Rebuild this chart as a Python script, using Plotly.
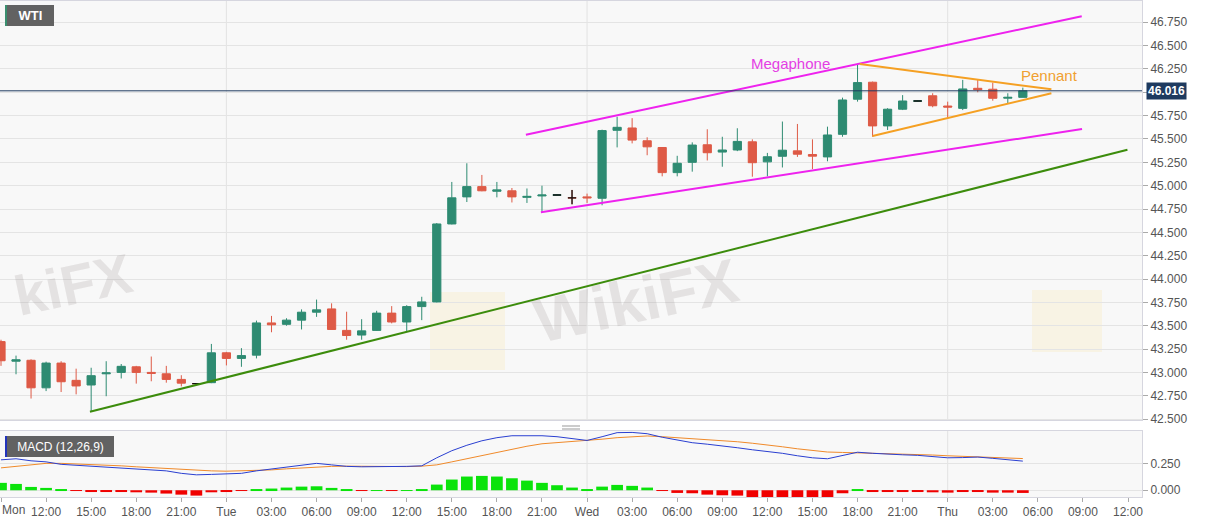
import plotly.graph_objects as go

# hourly candles, hour 0 = Mon 09:00
hours = list(range(69))
opens = [43.33, 43.12, 43.13, 42.835, 43.10, 42.915, 42.865, 42.985, 43.00, 43.06,
         43.00, 42.985, 42.925, 42.88, 42.89, 43.21, 43.15, 43.185, 43.53, 43.515,
         43.56, 43.645, 43.68, 43.45, 43.40, 43.45, 43.635, 43.54, 43.705, 43.755,
         44.59, 44.88, 44.99, 44.94, 44.945, 44.875, 44.89, 44.90, 44.87, 44.88,
         44.865, 45.593, 45.618, 45.481, 45.409, 45.14, 45.25, 45.438, 45.36, 45.382,
         45.47, 45.255, 45.315, 45.373, 45.334, 45.308, 45.55, 45.926, 46.108, 45.64,
         45.819, 45.907, 45.963, 45.853, 45.828, 46.043, 46.033, 45.937, 45.946]
highs = [43.35, 43.18, 43.14, 43.115, 43.12, 43.04, 43.05, 43.12, 43.09, 43.07,
         43.17, 43.07, 42.97, 42.885, 43.305, 43.22, 43.26, 43.555, 43.605, 43.58,
         43.675, 43.78, 43.74, 43.65, 43.57, 43.66, 43.71, 43.72, 43.81, 44.60,
         45.04, 45.24, 45.115, 45.04, 44.975, 44.97, 45.00, 44.905, 44.955, 44.915,
         45.60, 45.738, 45.723, 45.518, 45.41, 45.32, 45.464, 45.604, 45.524, 45.615,
         45.496, 45.351, 45.687, 45.661, 45.496, 45.632, 45.943, 46.304, 46.115, 45.83,
         45.97, 45.912, 45.99, 45.90, 46.133, 46.133, 46.104, 45.99, 46.05]
lows = [43.07, 42.98, 42.72, 42.80, 42.79, 42.765, 42.577, 42.745, 42.935, 42.88,
        42.905, 42.89, 42.85, 42.875, 42.885, 43.075, 43.06, 43.15, 43.43, 43.50,
        43.46, 43.595, 43.455, 43.35, 43.35, 43.445, 43.525, 43.435, 43.56, 43.75,
        44.585, 44.825, 44.94, 44.875, 44.82, 44.815, 44.72, 44.895, 44.80, 44.815,
        44.79, 45.41, 45.453, 45.326, 45.10, 45.10, 45.15, 45.27, 45.203, 45.37,
        45.096, 45.10, 45.195, 45.308, 45.178, 45.261, 45.524, 45.90, 45.524, 45.597,
        45.81, 45.902, 45.84, 45.732, 45.81, 46.00, 45.91, 45.882, 45.946]
closes = [43.125, 43.135, 42.835, 43.10, 42.90, 42.855, 42.965, 42.995, 43.065, 43.00,
          42.99, 42.925, 42.885, 42.88, 43.21, 43.15, 43.18, 43.53, 43.51, 43.56,
          43.645, 43.67, 43.46, 43.395, 43.445, 43.635, 43.54, 43.705, 43.755, 44.59,
          44.87, 44.99, 44.945, 44.955, 44.88, 44.885, 44.90, 44.90, 44.87, 44.87,
          45.59, 45.625, 45.488, 45.416, 45.14, 45.24, 45.435, 45.353, 45.382, 45.474,
          45.246, 45.31, 45.38, 45.337, 45.316, 45.543, 45.918, 46.104, 45.64, 45.819,
          45.907, 45.907, 45.856, 45.842, 46.036, 46.028, 45.936, 45.946, 46.016]
last_price = 46.016

# MACD (12,26,9)
macd = [0.284, 0.294, 0.275, 0.265, 0.242, 0.233, 0.223, 0.216, 0.209, 0.200,
        0.190, 0.181, 0.158, 0.144, 0.148, 0.153, 0.158, 0.181, 0.200, 0.219,
        0.233, 0.251, 0.237, 0.223, 0.219, 0.219, 0.219, 0.223, 0.228, 0.303,
        0.369, 0.420, 0.462, 0.491, 0.509, 0.509, 0.509, 0.500, 0.486, 0.465,
        0.500, 0.538, 0.540, 0.528, 0.495, 0.467, 0.444, 0.430, 0.416, 0.397,
        0.378, 0.364, 0.345, 0.322, 0.303, 0.294, 0.322, 0.355, 0.345, 0.336,
        0.331, 0.326, 0.312, 0.303, 0.305, 0.310, 0.298, 0.284, 0.272]
signal = [0.209, 0.223, 0.237, 0.251, 0.251, 0.247, 0.242, 0.235, 0.228, 0.219,
          0.211, 0.205, 0.195, 0.188, 0.181, 0.178, 0.181, 0.184, 0.190, 0.200,
          0.209, 0.219, 0.223, 0.225, 0.223, 0.219, 0.219, 0.221, 0.225, 0.237,
          0.265, 0.294, 0.322, 0.355, 0.387, 0.411, 0.434, 0.444, 0.453, 0.465,
          0.477, 0.491, 0.500, 0.507, 0.500, 0.491, 0.483, 0.472, 0.462, 0.453,
          0.439, 0.425, 0.406, 0.387, 0.369, 0.357, 0.353, 0.350, 0.345, 0.341,
          0.338, 0.334, 0.329, 0.322, 0.317, 0.312, 0.308, 0.303, 0.296]
hist = [0.069, 0.059, 0.031, 0.022, 0.006, -0.004, -0.016, -0.016, -0.016, -0.019,
        -0.022, -0.031, -0.041, -0.050, -0.019, -0.016, -0.006, 0.009, 0.016, 0.025,
        0.034, 0.037, 0.022, 0.004, -0.003, 0.002, -0.003, 0.001, 0.003, 0.053,
        0.100, 0.128, 0.134, 0.128, 0.112, 0.090, 0.069, 0.047, 0.025, 0.006,
        0.034, 0.050, 0.041, 0.025, -0.004, -0.025, -0.028, -0.041, -0.047, -0.050,
        -0.066, -0.072, -0.072, -0.075, -0.078, -0.066, -0.028, 0.003, -0.013, -0.013,
        -0.009, -0.009, -0.019, -0.022, -0.013, -0.013, -0.022, -0.022, -0.025]

# drawn lines (hour, price)
support_x, support_y = [5.92, 74.96], [42.578, 45.385]
mega_up_x, mega_up_y = [34.93, 71.92], [45.545, 46.815]
mega_lo_x, mega_lo_y = [35.93, 71.94], [44.716, 45.607]
pen_up_x, pen_up_y = [57.15, 69.9], [46.303, 46.032]
pen_lo_x, pen_lo_y = [58.0, 69.9], [45.532, 45.989]

tick_hours = list(range(0, 76, 3))
tick_labels = ['Mon', '12:00', '15:00', '18:00', '21:00', 'Tue', '03:00', '06:00', '09:00',
               '12:00', '15:00', '18:00', '21:00', 'Wed', '03:00', '06:00', '09:00', '12:00',
               '15:00', '18:00', '21:00', 'Thu', '03:00', '06:00', '09:00', '12:00']
day_hours = [15, 39, 63]
price_ticks = [42.5 + 0.25 * i for i in range(18)]

GREEN = '#2e8b72'
RED = '#de5a46'
FONT = 'Liberation Sans, Arial, sans-serif'
PW, PH, PB = 1142, 496, 497   # plot width, plot height, bottom pixel


def px(x):
    return x / PW


def py(y):
    return (PB - y) / PH


fig = go.Figure()

fig.add_trace(go.Candlestick(
    x=hours, open=opens, high=highs, low=lows, close=closes,
    increasing=dict(line=dict(color=GREEN, width=1), fillcolor=GREEN),
    decreasing=dict(line=dict(color=RED, width=1), fillcolor=RED),
    hoverinfo='none', showlegend=False, xaxis='x', yaxis='y'
))

# unchanged candles are black
doji = [i for i in hours if opens[i] == closes[i]]
fig.add_trace(go.Candlestick(
    x=[hours[i] for i in doji], open=[opens[i] for i in doji],
    high=[highs[i] for i in doji], low=[lows[i] for i in doji],
    close=[closes[i] for i in doji],
    increasing=dict(line=dict(color='#111', width=1.3), fillcolor='#111'),
    decreasing=dict(line=dict(color='#111', width=1.3), fillcolor='#111'),
    hoverinfo='none', showlegend=False, xaxis='x', yaxis='y'
))

for lx, ly, col in [(support_x, support_y, '#3c8c0c'),
                    (mega_up_x, mega_up_y, '#ee22ee'),
                    (mega_lo_x, mega_lo_y, '#ee22ee'),
                    (pen_up_x, pen_up_y, '#f5a023'),
                    (pen_lo_x, pen_lo_y, '#f5a023')]:
    fig.add_trace(go.Scatter(x=lx, y=ly, mode='lines', line=dict(color=col, width=2),
                             hoverinfo='none', showlegend=False, xaxis='x', yaxis='y'))

fig.add_trace(go.Bar(
    x=hours, y=hist, width=0.78,
    marker_color=['#0be30b' if v >= 0 else '#f00000' for v in hist],
    marker_line_width=0, hoverinfo='none', showlegend=False, xaxis='x2', yaxis='y2'
))
fig.add_trace(go.Scatter(x=hours, y=signal, mode='lines', line=dict(color='#f08a2a', width=1),
                         hoverinfo='none', showlegend=False, xaxis='x2', yaxis='y2'))
fig.add_trace(go.Scatter(x=hours, y=macd, mode='lines', line=dict(color='#2a3fd1', width=1),
                         hoverinfo='none', showlegend=False, xaxis='x2', yaxis='y2'))

axis_style = dict(showline=True, mirror=True, linecolor='#d6d6df', zeroline=False)
xr = [-0.0665, 75.93]

shapes = [dict(type='line', xref='paper', x0=0, x1=1, yref='y', y0=last_price, y1=last_price,
               line=dict(color='#1e3a5f', width=1))]
for d in day_hours:
    for yr in ['y domain', 'y2 domain']:
        shapes.append(dict(type='line', xref='x', x0=d, x1=d, yref=yr, y0=0, y1=1,
                           line=dict(color='#e2e2e2', width=1), layer='below'))
shapes += [
    # coloured strips at the left of the label boxes
    dict(type='rect', xref='paper', yref='paper', x0=px(5), x1=px(7),
         y0=py(26), y1=py(5), fillcolor='#3a8f6f', line_width=0),
    dict(type='rect', xref='paper', yref='paper', x0=px(5), x1=px(7),
         y0=py(457), y1=py(436), fillcolor='#2233bb', line_width=0),
    # pane separator handle
    dict(type='line', xref='paper', yref='paper', x0=px(562), x1=px(580),
         y0=py(426), y1=py(426), line=dict(color='#999', width=1)),
    dict(type='line', xref='paper', yref='paper', x0=px(562), x1=px(580),
         y0=py(429), y1=py(429), line=dict(color='#999', width=1)),
]
# faint watermark logos
for x0, y0, x1, y1 in [(430, 292, 505, 370), (1032, 290, 1102, 352)]:
    shapes.append(dict(type='rect', xref='paper', yref='paper', x0=px(x0), x1=px(x1),
                       y0=py(y1), y1=py(y0), fillcolor='rgba(245,205,90,0.13)',
                       line_width=0, layer='below'))

annotations = [
    dict(text='<b>WTI</b>', xref='paper', yref='paper', x=px(7), y=py(5), xanchor='left',
         yanchor='top', width=47, height=21, bgcolor='#626262', borderpad=0, borderwidth=0,
         showarrow=False, font=dict(color='white', size=13, family=FONT)),
    dict(text='MACD (12,26,9)', xref='paper', yref='paper', x=px(7), y=py(436),
         xanchor='left', yanchor='top', width=107, height=21, bgcolor='#626262',
         borderpad=0, borderwidth=0, showarrow=False,
         font=dict(color='white', size=12, family=FONT)),
    dict(text='Megaphone', xref='x', yref='y', x=52.56, y=46.314, showarrow=False,
         font=dict(color='#e43ee4', size=15, family=FONT)),
    dict(text='Pennant', xref='x', yref='y', x=69.8, y=46.18, showarrow=False,
         font=dict(color='#f0a030', size=15, family=FONT)),
    dict(text='<b>%.3f</b>' % last_price, xref='paper', yref='y', x=px(1146), y=last_price,
         xanchor='left', showarrow=False, bgcolor='#1e3a5f', borderpad=1,
         font=dict(color='white', size=12, family=FONT)),
    dict(text='Mon', xref='paper', yref='paper', x=0, y=py(510), xanchor='left',
         yanchor='middle', showarrow=False, font=dict(color='#555', size=12, family=FONT)),
]
# faint watermark words
for txt, x, y, anchor, size in [('kiFX', 140, 285, 'right', 56),
                                ('WikiFX', 636, 300, 'center', 62)]:
    annotations.append(dict(text='<b>%s</b>' % txt, xref='paper', yref='paper', x=px(x),
                            y=py(y), xanchor=anchor, showarrow=False, textangle=-12,
                            font=dict(color='rgba(150,140,140,0.2)', size=size,
                                      family=FONT)))

fig.update_layout(
    width=1207,
    height=526,
    margin=dict(l=0, r=65, t=1, b=29),
    paper_bgcolor='white',
    plot_bgcolor='#f8f8f8',
    boxgap=0.22,
    bargap=0.2,
    showlegend=False,
    font=dict(family=FONT, size=12, color='#555'),
    xaxis=dict(domain=[0, 1], range=xr, anchor='y', showticklabels=False, showgrid=False,
               rangeslider=dict(visible=False), **axis_style),
    yaxis=dict(domain=[0.155, 1], range=[42.489, 46.978], side='right', anchor='x',
               tickvals=price_ticks,
               ticktext=['' if abs(p - 46.0) < 1e-9 else '%.3f' % p for p in price_ticks],
               ticks='outside', ticklen=5, tickcolor='#aaa', gridcolor='#e4e4e4',
               tickfont=dict(size=12, color='#555'), **axis_style),
    xaxis2=dict(domain=[0, 1], range=xr, anchor='y2', matches='x', showgrid=False,
                tickvals=tick_hours, ticktext=[''] + tick_labels[1:], ticks='outside',
                ticklen=4, tickcolor='#aaa', tickfont=dict(size=12, color='#555'),
                **axis_style),
    yaxis2=dict(domain=[0, 0.133], range=[-0.063, 0.553], side='right', anchor='x2',
                tickvals=[0, 0.25], ticktext=['0.000', '0.250'], ticks='outside', ticklen=5,
                tickcolor='#aaa', gridcolor='#e4e4e4', tickfont=dict(size=12, color='#555'),
                **axis_style),
    shapes=shapes,
    annotations=annotations,
)

fig.write_html("out.html", config={'displayModeBar': False},
               post_script="document.body.style.margin = '0';")
